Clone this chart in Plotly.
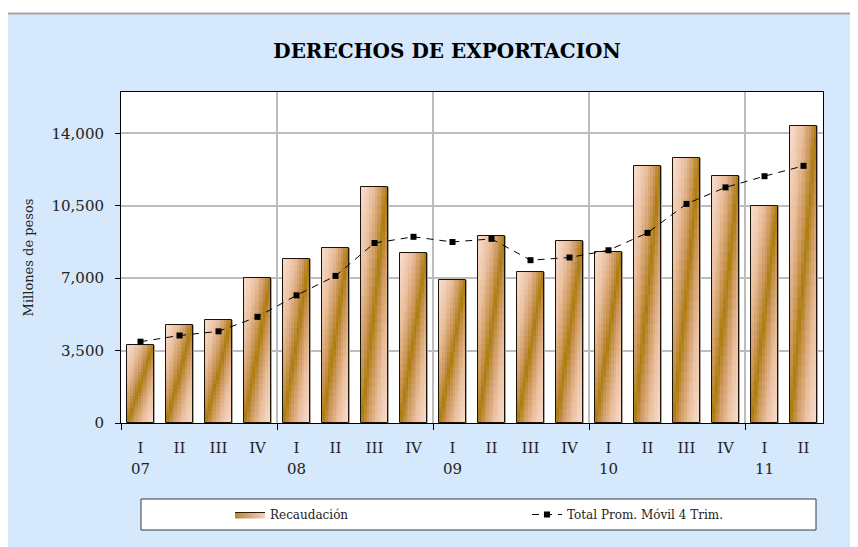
import plotly.graph_objects as go

# quarters 2007-I .. 2011-II
quarters = ['I', 'II', 'III', 'IV', 'I', 'II', 'III', 'IV', 'I', 'II',
            'III', 'IV', 'I', 'II', 'III', 'IV', 'I', 'II']
years = ['07', '08', '09', '10', '11']
year_start = [0, 4, 8, 12, 16]
recaudacion = [3750, 4760, 4960, 6990, 7940, 8480, 11430, 8200, 6890,
               9030, 7290, 8780, 8280, 12400, 12830, 11960, 10510, 14380]
prom_movil = [3930, 4230, 4430, 5130, 6170, 7110, 8700, 9000, 8750,
              8900, 7870, 8000, 8350, 9190, 10590, 11390, 11930, 12430]
y_ticks = [0, 3500, 7000, 10500, 14000]

x = list(range(len(quarters)))

# page body has an 8px margin, so the figure is drawn 8px smaller/shifted
OFF = 8
W, H = 858, 547
L, R, T, B = 121, 823, 92, 423
pw, ph = R - L, B - T


def px(v):
    return (v - L) / pw


def py(v):
    return (B - v) / ph


SERIF = 'DejaVu Serif'
BAR_W = 0.67

# diagonal gradient inside every bar: dark band along the
# bottom-left -> top-right diagonal, light peach at the other corners
stops = [(0.0, (172, 124, 14)), (0.22, (204, 152, 92)),
         (0.55, (234, 192, 160)), (1.0, (249, 222, 206))]


def grad(t):
    for (t0, c0), (t1, c1) in zip(stops[:-1], stops[1:]):
        if t <= t1:
            f = (t - t0) / (t1 - t0)
            c = [round(a + (b - a) * f) for a, b in zip(c0, c1)]
            return 'rgb(%d,%d,%d)' % tuple(c)
    return 'rgb(%d,%d,%d)' % stops[-1][1]


fig = go.Figure()

# faint shadow on the right of each bar
fig.add_trace(go.Bar(
    x=x, y=recaudacion, width=BAR_W, offset=-BAR_W / 2 + 0.03,
    marker=dict(color='#a8a8a8', line=dict(width=0)),
    showlegend=False, hoverinfo='skip'))

NC, NR = 10, 26
for i in range(NC):
    u = (i + 0.5) / NC
    for j in range(NR):
        v = (j + 0.5) / NR
        fig.add_trace(go.Bar(
            x=x, y=[r / NR for r in recaudacion],
            base=[r * j / NR for r in recaudacion],
            width=BAR_W / NC, offset=-BAR_W / 2 + i * BAR_W / NC,
            marker=dict(color=grad(abs(u - v)), line=dict(width=0)),
            showlegend=False, hoverinfo='skip'))

# outline of the bars
fig.add_trace(go.Bar(
    x=x, y=recaudacion, width=BAR_W, name='Recaudación',
    marker=dict(color='rgba(0,0,0,0)', line=dict(color='#1c1408', width=1)),
    showlegend=False))

# legend-only entry for the bars
fig.add_trace(go.Scatter(
    x=[None], y=[None], mode='lines', fill='toself', name='Recaudación',
    line=dict(color='#2a1c08', width=1),
    fillgradient=dict(type='horizontal',
                      colorscale=[[0, '#B8862A'], [0.5, '#D9A878'], [1, '#F4D2BE']])))

fig.add_trace(go.Scatter(
    x=x, y=prom_movil, mode='lines+markers', name='Total Prom. Móvil 4 Trim.',
    line=dict(color='black', width=1, dash='7px,6px'),
    marker=dict(symbol='square', size=6, color='black')))

for yr, pos in zip(years, year_start):
    fig.add_annotation(x=pos, y=py(469), xref='x', yref='paper', text=yr,
                       showarrow=False, yanchor='middle', xanchor='center',
                       font=dict(family=SERIF, size=15, color='#222'))

shapes = [
    dict(type='rect', xref='paper', yref='paper', x0=px(-20), x1=px(900),
         y0=py(13), y1=py(-20), fillcolor='white', line=dict(width=0)),
    dict(type='rect', xref='paper', yref='paper', x0=px(5.5), x1=px(900),
         y0=py(600), y1=py(13.5), line=dict(color='#A3A3A3', width=2)),
    dict(type='rect', xref='paper', yref='paper', x0=px(141), x1=px(816),
         y0=py(530), y1=py(499), fillcolor='white', layer='below',
         line=dict(color='#3a3a3a', width=1)),
]

fig.update_layout(
    width=W - OFF, height=H - OFF,
    margin=dict(l=L - OFF, r=W - R, t=T - OFF, b=H - B, pad=0),
    paper_bgcolor='#D5E8FC', plot_bgcolor='white',
    barmode='overlay', bargap=0,
    shapes=shapes,
    title=dict(text='DERECHOS DE EXPORTACION', x=px(447), xref='paper',
               xanchor='center', y=1 - (51 - OFF) / (H - OFF), yanchor='middle',
               font=dict(family=SERIF, size=20, color='black', weight='bold')),
    legend=dict(orientation='h', x=px(230), xanchor='left', y=py(514.5),
                yanchor='middle', bgcolor='rgba(0,0,0,0)', borderwidth=0,
                entrywidth=252, font=dict(family=SERIF, size=12, color='#222'),
                traceorder='normal'),
    font=dict(family=SERIF, color='#222'),
)

fig.update_xaxes(
    range=[-0.5, 17.5], tickmode='array', tickvals=x, ticktext=quarters,
    ticks='', showgrid=False, zeroline=False,
    showline=True, linecolor='black', linewidth=1, mirror=True,
    tickfont=dict(family=SERIF, size=15, color='#222'), ticklabelstandoff=11,
    minor=dict(tickmode='array', tickvals=[-0.5, 3.5, 7.5, 11.5, 15.5],
               ticks='outside', ticklen=6, tickcolor='black',
               showgrid=True, gridcolor='#BDBDBD', gridwidth=2))

fig.update_yaxes(
    range=[0, 16000], tickmode='array', tickvals=y_ticks, tickformat=',',
    ticks='outside', ticklen=5, tickcolor='black',
    showgrid=True, gridcolor='#BDBDBD', gridwidth=2, zeroline=False,
    showline=True, linecolor='black', linewidth=1, mirror=True,
    tickfont=dict(family=SERIF, size=15, color='#222'), ticklabelstandoff=8,
    title=dict(text='Millones de pesos', standoff=14,
               font=dict(family=SERIF, size=13, color='#222')))

fig.write_html('out.html')
